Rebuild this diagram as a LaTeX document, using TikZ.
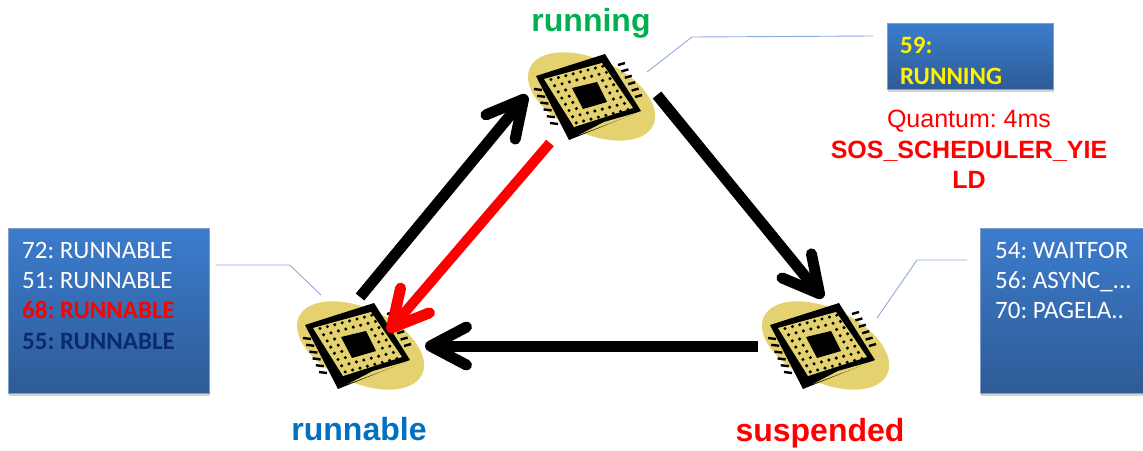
\documentclass[tikz,border=0pt]{standalone}
\usepackage{fontspec}
\setmainfont{Liberation Sans}
\newfontfamily\boxfont{Carlito}
\usetikzlibrary{arrows.meta,shadows}

\definecolor{chipyellow}{HTML}{E3D26F}
\definecolor{boxtop}{HTML}{3C7CCD}
\definecolor{boxbottom}{HTML}{2E5B96}
\definecolor{boxline}{HTML}{7F9FC9}
\definecolor{leaderblue}{HTML}{8EAADB}
\definecolor{runninggreen}{HTML}{00B050}
\definecolor{runnableblue}{HTML}{0070C0}
\definecolor{navytext}{HTML}{0B2A6E}

\tikzset{
  cpu/.pic={
    \fill[chipyellow,rotate=-25] (3,-2) ellipse [x radius=68,y radius=37];
    \fill[black] (-52,-21) -- (17,-43) -- (53,14) -- (-19,43) -- cycle;
    \fill[chipyellow] (-44,-18) -- (14,-34) -- (45,11) -- (-14,30) -- cycle;
    \fill[chipyellow] (-9,38) -- (53,14.5) -- (16,25) -- cycle; %sliver in the lower edge
    \fill[black] (-16,-9) -- (9,-15) -- (19,5) -- (-5,12) -- cycle;
    \foreach \i in {0,...,7}{ %dots in two rings round the die
      \foreach \j in {0,...,7}{
        \pgfmathparse{min(min(\i,7-\i),min(\j,7-\j))<2?1:0}
        \ifnum\pgfmathresult=1
          \fill[black] ({-37+7.4*\i+3.6*\j},{-17.5-1.9*\i+6.2*\j}) circle [radius=1.7];
        \fi
      }
    }
    \foreach \k in {0,...,5}{ %pins on both sides
      \draw[black,line width=2.4pt] ({-54+3.2*\k},{-8+6.8*\k}) -- ++(8,1);
      \draw[black,line width=2.4pt] ({30+3.4*\k},{-32+6.4*\k}) -- ++(7,-2);
    }
  },
  chipnode/.style={circle,minimum size=100pt,inner sep=0pt},
  statename/.style={font=\bfseries\fontsize{32}{36}\selectfont,anchor=base},
  taskbox/.style={anchor=north west,inner sep=0pt,draw=boxline,line width=.6pt,
    top color=boxtop,bottom color=boxbottom,
    drop shadow={shadow xshift=1pt,shadow yshift=-2.5pt,opacity=.35}},
  tasktext/.style={font=\boxfont\fontsize{25}{28}\selectfont,anchor=base west,inner sep=0pt},
  flow/.style={line width=11pt,-{Straight Barb[round,line width=11pt,length=36pt,width=38pt]}},
  leader/.style={leaderblue,line width=.9pt}
}

\begin{document}
\frenchspacing
\begin{tikzpicture}[x=1pt,y=-1pt]
\useasboundingbox (0,0) rectangle (1143,450);

\node[chipnode] (running) at (588,97) {};
\node[chipnode] (runnable) at (357,346) {};
\node[chipnode] (suspended) at (822,346) {};
\foreach \s in {running,runnable,suspended}{
\pic at (\s) {cpu};
}

\node[statename,text=runninggreen] (runningname) at (591,31) {running};
\node[statename,text=runnableblue] (runnablename) at (359,440) {runnable};
\node[statename,text=red] (suspendedname) at (820,441) {suspended};

\node[taskbox,minimum width=201pt,minimum height=165pt] (queuebox) at (8,228) {};
\node[taskbox,minimum width=166pt,minimum height=66pt] (cpubox) at (887,23) {};
\node[taskbox,minimum width=170pt,minimum height=165pt] (waitbox) at (980,228) {};

\foreach[count=\xi] \x/\c/\w in {72: RUNNABLE/white/\mdseries,51: RUNNABLE/white/\mdseries,68: RUNNABLE/red/\bfseries,55: RUNNABLE/navytext/\bfseries}{ %\xi is the row
\node[tasktext,text=\c] (queue-\xi) at ([shift={(14,{30.3*\xi})}]queuebox.north west) {\w\x};
}
\foreach[count=\xi] \x in {59:,RUNNING}{
\node[tasktext,text=yellow] (cpu-\xi) at ([shift={(13,{30.5*\xi})}]cpubox.north west) {\bfseries\x};
}
\foreach[count=\xi] \x in {54: WAITFOR,56: ASYNC\_.{}.{}.,70: PAGELA..}{
\node[tasktext,text=white] (wait-\xi) at ([shift={(15,{30.3*\xi})}]waitbox.north west) {\x};
}

\node[text=red,align=center,inner sep=0pt,anchor=north,font=\fontsize{25}{30.5}\selectfont] (waitinfo) at (969,110)
  {Quantum: 4ms\\\bfseries SOS\_SCHEDULER\_YIE\\\bfseries LD};

\draw[leader] ([shift={(59,-25)}]running.center) -- ++(45,-35) -- ([shift={(-14,13)}]cpubox.north west);
\draw[leader] ([shift={(6,37)}]queuebox.north east) -- ++(74,0) -- ([shift={(-36,-51)}]runnable.center);
\draw[leader] ([shift={(-13,32)}]waitbox.north west) -- ++(-50,0) -- ([shift={(55,-28)}]suspended.center);

\draw[flow] ([shift={(3,-49)}]runnable.center) -- ([shift={(-61,-2)}]running.center);
\draw[flow] ([shift={(69,-2)}]running.center) -- ([shift={(1,-48)}]suspended.center);
\draw[flow] ([shift={(-64,0)}]suspended.center) -- ([shift={(68,0)}]runnable.center);
\draw[flow,red,line width=10pt] ([shift={(-38,46)}]running.center) -- ([shift={(31,-14)}]runnable.center);

\end{tikzpicture}
\end{document}
